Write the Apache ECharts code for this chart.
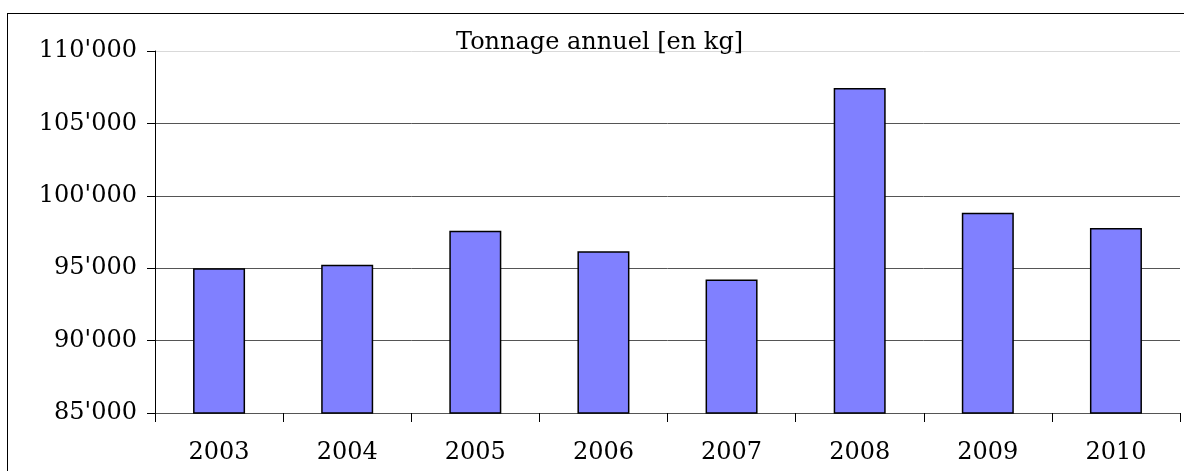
<!DOCTYPE html>
<html>
<head>
<meta charset="utf-8">
<script src="https://cdn.jsdelivr.net/npm/echarts@6/dist/echarts.min.js"></script>
<style>
    html, body {
        margin: 0;
        padding: 0;
        background: #fff;
        overflow: hidden;
    }
    #wrap {
        position: relative;
        width: 1184px;
        height: 471px;
        overflow: hidden;
    }
    #frame {
        position: absolute;
        left: 7px;
        top: 13px;
        width: 1400px;
        height: 700px;
        border: 1px solid #000;
        box-sizing: border-box;
    }
    #chart {
        position: absolute;
        left: 0;
        top: 0;
        width: 1184px;
        height: 471px;
    }
</style>
</head>
<body>
<div id="wrap">
    <div id="frame"></div>
    <div id="chart"></div>
</div>
<script>
// données
const years = ['2003', '2004', '2005', '2006', '2007', '2008', '2009', '2010'];
const tonnage = [94990, 95230, 97580, 96170, 94220, 107450, 98830, 97780];
const yTicks = { min: 85000, max: 110000, step: 5000 };

const serif = 'DejaVu Serif';

function fmt(v) {
    // séparateur des milliers : apostrophe
    return String(v).replace(/\B(?=(\d{3})+(?!\d))/g, "'");
}

const chart = echarts.init(document.getElementById('chart'), null, { renderer: 'canvas' });

const option = {
    animation: false,
    backgroundColor: 'transparent',
    title: {
        text: 'Tonnage annuel [en kg]',
        left: 456,
        top: 31,
        padding: 0,
        textStyle: {
            fontFamily: serif,
            fontSize: 24,
            fontWeight: 'normal',
            color: '#000'
        }
    },
    grid: {
        left: 155,
        right: 4,
        top: 51,
        bottom: 58
    },
    xAxis: {
        type: 'category',
        data: years,
        axisLine: { lineStyle: { color: '#555', width: 1 } },
        axisTick: { show: true, length: 9, inside: false, lineStyle: { color: '#000' } },
        axisLabel: {
            margin: 28,
            fontFamily: serif,
            fontSize: 24,
            color: '#000'
        },
        splitLine: { show: false }
    },
    yAxis: {
        type: 'value',
        min: yTicks.min,
        max: yTicks.max,
        interval: yTicks.step,
        axisLine: { show: true, lineStyle: { color: '#000', width: 1 } },
        axisTick: { show: true, length: 8, lineStyle: { color: '#000' } },
        axisLabel: {
            margin: 18,
            fontFamily: serif,
            fontSize: 24,
            color: '#000',
            formatter: fmt
        },
        splitLine: {
            show: true,
            lineStyle: {
                color: ['#555', '#555', '#555', '#555', '#555', '#d9d9d9'],
                width: 1
            }
        }
    },
    series: [
        {
            type: 'bar',
            data: tonnage,
            barWidth: 52,
            itemStyle: {
                color: '#8080ff',
                borderColor: '#000',
                borderWidth: 1.5
            }
        }
    ]
};

chart.setOption(option);
</script>
</body>
</html>
